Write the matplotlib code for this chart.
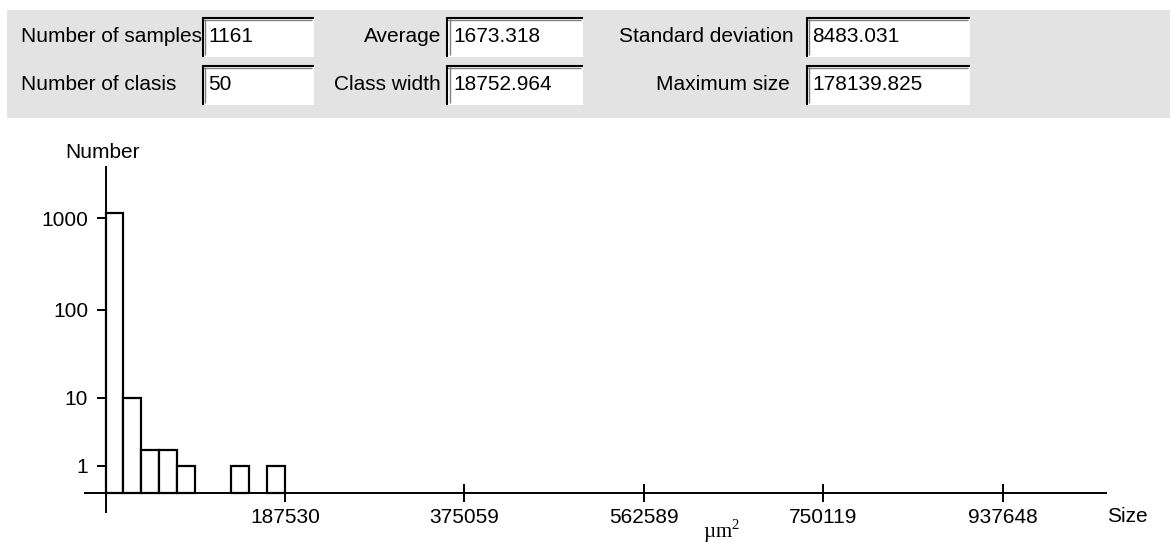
import numpy as np
import matplotlib
matplotlib.use("Agg")
import matplotlib.pyplot as plt
from matplotlib.patches import Rectangle
from matplotlib.lines import Line2D
from matplotlib.ticker import NullLocator

# ---------------- data ----------------
row1_labels = ["Number of samples", "Average", "Standard deviation"]
row1_values = ["1161", "1673.318", "8483.031"]
row2_labels = ["Number of clasis", "Class width", "Maximum size"]
row2_values = ["50", "18752.964", "178139.825"]

class_width = 18752.964
class_counts = [1144, 10, 2, 2, 1, 0, 0, 1, 0, 1]

x_tick_values = [187530, 375059, 562589, 750119, 937648]
x_tick_labels = ["187530", "375059", "562589", "750119", "937648"]
y_tick_values = [1, 10, 100, 1000]
y_tick_labels = ["1", "10", "100", "1000"]

y_axis_label = "Number"
x_axis_label = "Size"
unit_label = "µm$^2$"

# ---------------- layout ----------------
plt.rcParams['font.family'] = ['Liberation Sans', 'DejaVu Sans']
plt.rcParams['mathtext.fontset'] = 'custom'
plt.rcParams['mathtext.rm'] = 'Liberation Serif'
W, H = 1170, 544
fig = plt.figure(figsize=(W / 100, H / 100), dpi=100)
fig.patch.set_facecolor('white')


def fx(px):
    return px / W


def fy(py):
    return 1 - py / H


FS = 15

# gray header panel
fig.add_artist(Rectangle((fx(7), fy(118)), fx(1170) - fx(7), (118 - 10) / H,
                         transform=fig.transFigure, facecolor='#e3e3e3',
                         edgecolor='none', zorder=0))

box_cols = [(202, 314), (447, 583), (806, 970)]
box_rows = [(17, 57), (65, 105)]
label_rows = [row1_labels, row2_labels]
value_rows = [row1_values, row2_values]
label_anchor = [
    [(21, 'left'), (441, 'right'), (794, 'right')],
    [(21, 'left'), (441, 'right'), (790, 'right')],
]
text_y = [36, 85]


def line(x0, y0, x1, y1, color, lw):
    fig.add_artist(Line2D([fx(x0), fx(x1)], [fy(y0), fy(y1)],
                          transform=fig.transFigure, color=color, lw=lw,
                          solid_capstyle='butt', zorder=2))


for r, (top, bot) in enumerate(box_rows):
    for c, (left, right) in enumerate(box_cols):
        fig.add_artist(Rectangle((fx(left), fy(bot)), fx(right) - fx(left),
                                 (bot - top) / H, transform=fig.transFigure,
                                 facecolor='white', edgecolor='none', zorder=1))
        # sunken border: dark top/left
        line(left, top + 0.5, right, top + 0.5, '#000000', 1.5)
        line(left, top + 2.5, right - 2, top + 2.5, '#808080', 1.0)
        line(left + 0.5, top, left + 0.5, bot, '#000000', 1.5)
        line(left + 2.5, top + 2, left + 2.5, bot - 2, '#808080', 1.0)
        ax_, ha = label_anchor[r][c]
        fig.text(fx(ax_), fy(text_y[r]), label_rows[r][c], ha=ha, va='center',
                 fontsize=FS, color='black')
        fig.text(fx(left + 6), fy(text_y[r]), value_rows[r][c], ha='left',
                 va='center', fontsize=FS, color='black')

# ---------------- histogram axes ----------------
ax_left_px, ax_right_px = 85, 1105.7
ax_top_px, ax_bot_px = 167, 512
origin_x_px, tick1_x_px = 105.5, 285.0
origin_y_px, tick1000_y_px = 493.3, 218.3

ax = fig.add_axes([fx(ax_left_px), fy(ax_bot_px),
                   (ax_right_px - ax_left_px) / W, (ax_bot_px - ax_top_px) / H])
ax.patch.set_alpha(0)


def fwd(y):
    y = np.asarray(y, dtype=float)
    return np.log10(np.clip(1 + y, 1e-9, None))


def inv(f):
    return 10 ** np.asarray(f, dtype=float) - 1


data_per_px = x_tick_values[0] / (tick1_x_px - origin_x_px)
ax.set_xlim((ax_left_px - origin_x_px) * data_per_px,
            (ax_right_px - origin_x_px) * data_per_px)

ax.set_yscale('function', functions=(fwd, inv))
px_per_unit = (origin_y_px - tick1000_y_px) / np.log10(1001)
ax.set_ylim(inv(-(ax_bot_px - origin_y_px) / px_per_unit),
            inv((origin_y_px - ax_top_px) / px_per_unit))

idx = [i for i, c in enumerate(class_counts) if c > 0]
ax.bar([i * class_width for i in idx], [class_counts[i] for i in idx],
       width=class_width, align='edge', facecolor='white', edgecolor='black',
       linewidth=1.6, zorder=3)

for s in ['top', 'right']:
    ax.spines[s].set_visible(False)
ax.spines['left'].set_position(('data', 0))
ax.spines['bottom'].set_position(('data', 0))
for s in ['left', 'bottom']:
    ax.spines[s].set_linewidth(1.4)
    ax.spines[s].set_zorder(4)

ax.set_xticks(x_tick_values, x_tick_labels)
ax.set_yticks(y_tick_values, y_tick_labels)
ax.yaxis.set_minor_locator(NullLocator())
ax.xaxis.set_minor_locator(NullLocator())
ax.tick_params(axis='x', direction='inout', length=13.5, width=1.4, pad=3.6,
               labelsize=FS, colors='black')
ax.tick_params(axis='y', direction='inout', length=13, width=1.4, pad=6,
               labelsize=FS, colors='black')

fig.text(fx(102.5), fy(153), y_axis_label, ha='center', va='center',
         fontsize=FS, color='black')
fig.text(fx(1107), fy(516), x_axis_label, ha='left', va='center',
         fontsize=FS, color='black')
fig.text(fx(721), fy(538), unit_label, ha='center', va='baseline',
         fontsize=15, color='black', family=['Liberation Serif', 'DejaVu Serif'])

fig.savefig('out.png', dpi=100)
